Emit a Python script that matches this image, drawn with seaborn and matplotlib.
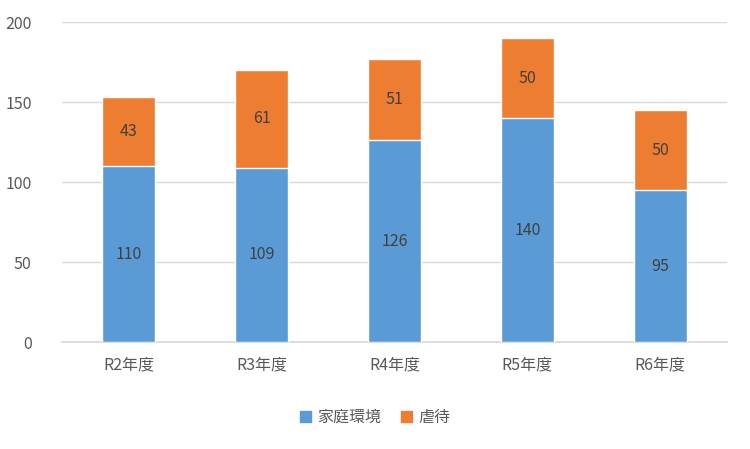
import matplotlib
matplotlib.use("Agg")
import matplotlib.pyplot as plt
import seaborn as sns
import pandas as pd
from matplotlib.patches import Patch

years = ["R2年度", "R3年度", "R4年度", "R5年度", "R6年度"]
katei = [110, 109, 126, 140, 95]
gyakutai = [43, 61, 51, 50, 50]

blue = "#5B9BD5"
orange = "#ED7D31"

sns.set_theme(style="white")
plt.rcParams["font.family"] = ["Noto Sans CJK JP", "DejaVu Sans"]

df = pd.DataFrame({"year": years, "katei": katei, "gyakutai": gyakutai})
df["total"] = df["katei"] + df["gyakutai"]

fig = plt.figure(figsize=(7.5, 4.49), dpi=100)
ax = fig.add_axes([0.083, 0.238, 0.886, 0.713])

sns.barplot(data=df, x="year", y="total", color=orange, width=0.4,
            saturation=1, ax=ax, zorder=2)
sns.barplot(data=df, x="year", y="katei", color=blue, width=0.4,
            saturation=1, ax=ax, zorder=3)

for i, (k, g) in enumerate(zip(katei, gyakutai)):
    ax.text(i, k / 2, str(k), ha="center", va="center", fontsize=11.5,
            color="#404040", zorder=4)
    ax.text(i, k + g / 2, str(g), ha="center", va="center", fontsize=11.5,
            color="#404040", zorder=4)

ax.set_ylim(0, 200)
ax.set_xlim(-0.5, 4.5)
ax.set_yticks(range(0, 201, 50))
ax.yaxis.grid(True, color="#D9D9D9", linewidth=1, zorder=0)
ax.set_xlabel("")
ax.set_ylabel("")
for s in ["top", "right", "left"]:
    ax.spines[s].set_visible(False)
ax.spines["bottom"].set_color("#D9D9D9")
ax.tick_params(axis="both", colors="#595959", labelsize=11.5, length=0)
ax.tick_params(axis="x", pad=10)
ax.tick_params(axis="y", pad=22)

handles = [Patch(color=blue, label="家庭環境"), Patch(color=orange, label="虐待")]
fig.legend(handles=handles, loc="center", bbox_to_anchor=(0.5, 0.07), ncol=2,
           frameon=False, fontsize=11.5, handlelength=0.7, handleheight=0.7,
           handletextpad=0.4, columnspacing=1.2, labelcolor="#595959")

fig.savefig("out.png", dpi=100)
